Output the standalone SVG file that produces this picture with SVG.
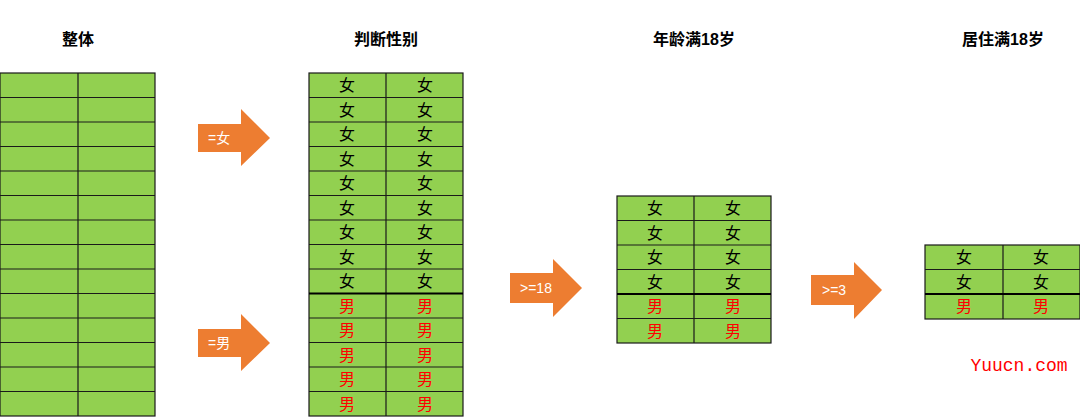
<svg xmlns="http://www.w3.org/2000/svg" width="1080" height="419" viewBox="0 0 1080 419">
<defs>
<style>
.t{font-family:"Liberation Sans","Noto Sans CJK SC",sans-serif;font-weight:bold;font-size:16px;text-anchor:middle;fill:#000}
.c{fill:#92d050;stroke:#1a1a1a;stroke-width:1.2}
.f{font-family:"Noto Sans CJK SC",sans-serif;font-size:16px;text-anchor:middle;fill:#000}
.m{font-family:"Noto Sans CJK SC",sans-serif;font-size:16px;text-anchor:middle;fill:#ff0000}
.a{fill:#ed7d31}
.al{font-family:"Liberation Sans","Noto Sans CJK SC",sans-serif;font-size:14px;fill:#fff}
</style>
</defs>
<rect width="1080" height="419" fill="#fff"/>
<text class="t" x="78" y="45">整体</text>
<text class="t" x="386" y="45">判断性别</text>
<text class="t" x="694" y="45">年龄满18岁</text>
<text class="t" x="1003" y="45">居住满18岁</text>
<g id="table1">
<rect class="c" x="0" y="73" width="155" height="343"/>
<path stroke="#1a1a1a" stroke-width="1.2" d="M78 73V416M0 97.5H155M0 122H155M0 146.5H155M0 171H155M0 195.5H155M0 220H155M0 244.5H155M0 269H155M0 293.5H155M0 318H155M0 342.5H155M0 367H155M0 391.5H155"/>
</g>
<g id="table2">
<rect class="c" x="309" y="73" width="154" height="343"/>
<path stroke="#1a1a1a" stroke-width="1.2" d="M386 73V416M309 97.5H463M309 122H463M309 146.5H463M309 171H463M309 195.5H463M309 220H463M309 244.5H463M309 269H463M309 318H463M309 342.5H463M309 367H463M309 391.5H463"/>
<path stroke="#000" stroke-width="2" d="M309 293.5H463"/>
<g class="f">
<text x="347" y="91">女</text><text x="425" y="91">女</text>
<text x="347" y="115.5">女</text><text x="425" y="115.5">女</text>
<text x="347" y="140">女</text><text x="425" y="140">女</text>
<text x="347" y="164.5">女</text><text x="425" y="164.5">女</text>
<text x="347" y="189">女</text><text x="425" y="189">女</text>
<text x="347" y="213.5">女</text><text x="425" y="213.5">女</text>
<text x="347" y="238">女</text><text x="425" y="238">女</text>
<text x="347" y="262.5">女</text><text x="425" y="262.5">女</text>
<text x="347" y="287">女</text><text x="425" y="287">女</text>
</g>
<g class="m">
<text x="347" y="311.5">男</text><text x="425" y="311.5">男</text>
<text x="347" y="336">男</text><text x="425" y="336">男</text>
<text x="347" y="360.5">男</text><text x="425" y="360.5">男</text>
<text x="347" y="385">男</text><text x="425" y="385">男</text>
<text x="347" y="409.5">男</text><text x="425" y="409.5">男</text>
</g>
</g>
<g id="table3">
<rect class="c" x="617" y="196" width="154" height="147"/>
<path stroke="#1a1a1a" stroke-width="1.2" d="M694 196V343M617 220.5H771M617 245H771M617 269.5H771M617 318.5H771"/>
<path stroke="#000" stroke-width="2" d="M617 294H771"/>
<g class="f">
<text x="655" y="214">女</text><text x="733" y="214">女</text>
<text x="655" y="238.5">女</text><text x="733" y="238.5">女</text>
<text x="655" y="263">女</text><text x="733" y="263">女</text>
<text x="655" y="287.5">女</text><text x="733" y="287.5">女</text>
</g>
<g class="m">
<text x="655" y="312">男</text><text x="733" y="312">男</text>
<text x="655" y="336.5">男</text><text x="733" y="336.5">男</text>
</g>
</g>
<g id="table4">
<rect class="c" x="925" y="245" width="155" height="74"/>
<path stroke="#1a1a1a" stroke-width="1.2" d="M1003 245V319M925 269.5H1080"/>
<path stroke="#000" stroke-width="2" d="M925 294H1080"/>
<g class="f">
<text x="964" y="263">女</text><text x="1041" y="263">女</text>
<text x="964" y="287.5">女</text><text x="1041" y="287.5">女</text>
</g>
<g class="m">
<text x="964" y="312">男</text><text x="1041" y="312">男</text>
</g>
</g>
<g id="connectors">
<g id="arrow1"><path class="a" d="M198 124H241V109L270 138L241 166V152H198Z"/><text class="al" x="208" y="143">=女</text></g>
<g id="arrow2"><path class="a" d="M198 329H241V314L270 343L241 371V357H198Z"/><text class="al" x="208" y="348">=男</text></g>
<g id="arrow3"><path class="a" d="M510 273H553V259L582 288L553 317V303H510Z"/><text class="al" x="520" y="293">&gt;=18</text></g>
<g id="arrow4"><path class="a" d="M811 275H854V262L882 290L854 319V305H811Z"/><text class="al" x="822" y="295">&gt;=3</text></g>
</g>
<text x="1019" y="371" font-family="Liberation Mono,monospace" font-size="18" fill="#ff0000" text-anchor="middle">Yuucn.com</text>
</svg>
